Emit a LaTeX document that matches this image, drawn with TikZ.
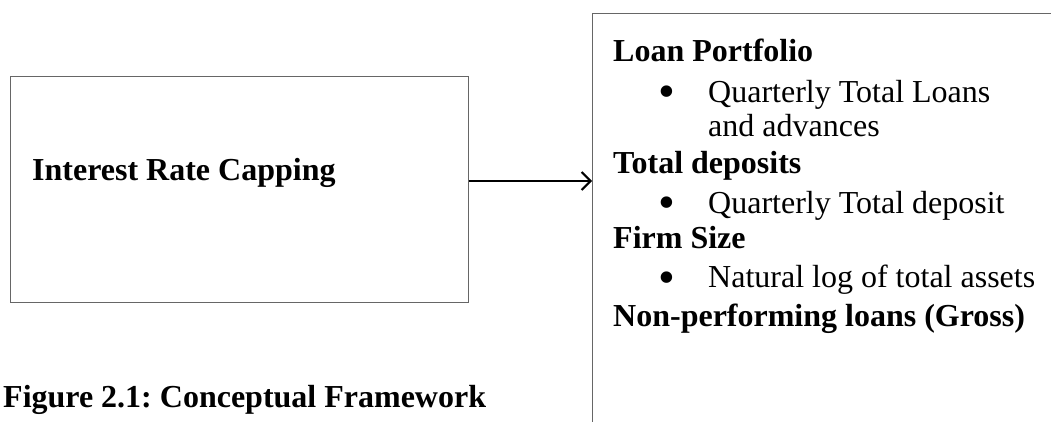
\documentclass[tikz,border=0pt]{standalone}
\usepackage{fontspec}
\setmainfont{Liberation Serif}
\usetikzlibrary{arrows.meta}
\begin{document}
\frenchspacing
\begin{tikzpicture}[x=1pt,y=-1pt,
  boxline/.style={draw=black!60,line width=1pt},
  txt/.style={anchor=base west,inner sep=0pt,font=\fontsize{32}{38}\selectfont},
  head/.style={txt,font=\fontsize{32}{38}\selectfont\bfseries},
  bul/.style={anchor=base,inner sep=0pt,text depth=0pt,font=\fontsize{48}{48}\selectfont}]
\useasboundingbox (0,0) rectangle (1051,421);
\clip (0,0) rectangle (1051,421);
% left box
\node[boxline,rectangle,minimum width=458pt,minimum height=226pt,inner sep=0pt,anchor=north west] (cap) at (10,76) {};
\node[head] (captxt) at (32,180) {Interest Rate Capping};
% right box (open to the right and bottom)
\node[boxline,rectangle,minimum width=480pt,minimum height=430pt,inner sep=0pt,anchor=north west] (vars) at (592,13) {};
% arrow
\coordinate (ay) at (0,181);
\draw[line width=2pt,-{Straight Barb[length=9pt,width=18pt,line width=2pt]}] (cap.east |- ay) -- (vars.west |- ay);
% right box contents
\node[head] (h1) at (613,61) {Loan Portfolio};
\node[bul] (b1) at (667,107) {•};
\node[txt] (t1) at (708,102) {Quarterly Total Loans};
\node[txt] (t1b) at (708,136) {and advances};
\node[head] (h2) at (613,173) {Total deposits};
\node[bul] (b2) at (667,218) {•};
\node[txt] (t2) at (708,213) {Quarterly Total deposit};
\node[head] (h3) at (613,248) {Firm Size};
\node[bul] (b3) at (667,293) {•};
\node[txt] (t3) at (708,287) {Natural log of total assets};
\node[head] (h4) at (613,326) {Non-performing loans (Gross)};
% caption
\node[head] (fig) at (3,407) {Figure 2.1: Conceptual Framework};
\end{tikzpicture}
\end{document}
